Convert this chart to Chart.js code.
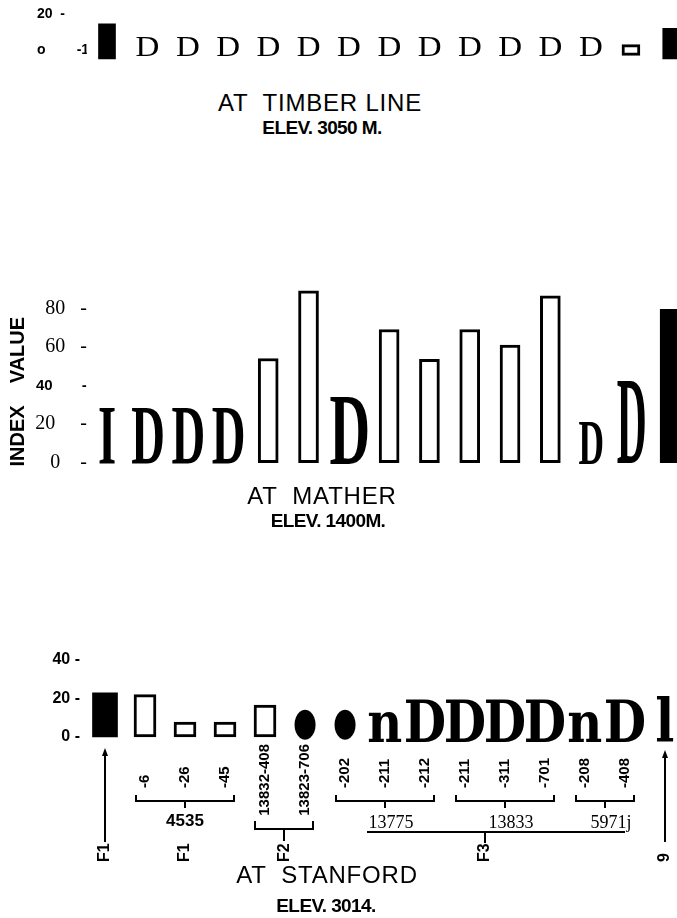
<!DOCTYPE html>
<html>
<head>
<meta charset="utf-8">
<script src="https://cdn.jsdelivr.net/npm/chart.js@4.4.1/dist/chart.umd.min.js"></script>
<style>
body { margin: 0; background: #fff; }
#page { position: relative; width: 677px; height: 918px; overflow: hidden; background: #fff; }
canvas { position: absolute; left: 0; }
.cap { position: absolute; width: 400px; text-align: center; color: #000; white-space: pre; font-family: "Liberation Sans", Arial, sans-serif; }
.big { font-size: 24px; line-height: 24px; letter-spacing: 0.8px; }
.elev { font-size: 19px; line-height: 19px; font-weight: bold; letter-spacing: -0.6px; }
</style>
</head>
<body>
<div id="page">
  <canvas id="timber" width="720" height="100" style="top:-20px;width:720px;height:100px"></canvas>
  <canvas id="mather" width="720" height="230" style="top:260px;width:720px;height:230px"></canvas>
  <canvas id="stanford" width="720" height="260" style="top:620px;width:720px;height:260px"></canvas>

  <div class="cap big" style="left:120px;top:91px">AT  TIMBER LINE</div>
  <div class="cap elev" style="left:122px;top:118px">ELEV. 3050 M.</div>
  <div class="cap big" style="left:122px;top:484px">AT  MATHER</div>
  <div class="cap elev" style="left:128px;top:511px">ELEV. 1400M.</div>
  <div class="cap big" style="left:127px;top:863px">AT  STANFORD</div>
  <div class="cap elev" style="left:126px;top:896px">ELEV. 3014.</div>
</div>
<script>
// slots along each panel (one per specimen)
const slots = ['1', '2', '3', '4', '5', '6', '7', '8', '9', '10', '11', '12', '13', '14', '15']

// AT TIMBER LINE
const timberSolid = [14.5, null, null, null, null, null, null, null, null, null, null, null, null, null, 12]
const timberOpen = [null, null, null, null, null, null, null, null, null, null, null, null, null, 3, null]
const timberGlyph = [null, 7.5, 7.5, 7.5, 7.5, 7.5, 7.5, 7.5, 7.5, 7.5, 7.5, 7.5, 7.5, null, null]
const timberGlyphText = ['', 'D', 'D', 'D', 'D', 'D', 'D', 'D', 'D', 'D', 'D', 'D', 'D', '', '']
const timberTicks = [0, 20]
const timberTickText = ['o        -1', '20  -']

// AT MATHER
const matherOpen = [null, null, null, null, 54, 89, null, 69, 53.5, 69, 61, 86.5, null, null, null]
const matherSolid = [null, null, null, null, null, null, null, null, null, null, null, null, null, null, 79.5]
const matherGlyph = [28, 28, 28, 28, null, null, 34, null, null, null, null, null, 21, null, null]
const matherGlyphText = ['I', 'D', 'D', 'D', '', '', 'D', '', '', '', '', '', 'D', '', '']
const matherTallGlyph = [null, null, null, null, null, null, null, null, null, null, null, null, null, 42, null]
const matherTallGlyphText = ['', '', '', '', '', '', '', '', '', '', '', '', '', 'D', '']
const matherTicks = [0, 20, 40, 60, 80]
const matherTickText = ['0    -', '20     -', '40       -', '60   -', '80   -']

// AT STANFORD
const stanfordLabels = ['', '-6', '-26', '-45', '13832-408', '13823-706', '-202', '-211', '-212', '-211', '-311', '-701', '-208', '-408', '']
const stanfordSolid = [23, null, null, null, null, null, null, null, null, null, null, null, null, null, null]
const stanfordOpen = [null, 22, 7.8, 7.8, 16.6, null, null, null, null, null, null, null, null, null, null]
const stanfordDots = [null, null, null, null, null, 14.5, 14.5, null, null, null, null, null, null, null, null]
const stanfordDotText = ['', '', '', '', '', '●', '●', '', '', '', '', '', '', '', '']
const stanfordGlyph = [null, null, null, null, null, null, null, 13, 19.2, 19.2, 19.2, 19.2, 13, 19.2, 20.8]
const stanfordGlyphText = ['', '', '', '', '', '', '', 'n', 'D', 'D', 'D', 'D', 'n', 'D', 'l']
const stanfordTicks = [0, 20, 40]
const stanfordTickText = ['0 -', '20 -', '40 -']
const stanfordGroupNames = ['4535', '13775', '13833', '5971j']
const stanfordGroupFirst = [1, 6, 9, 12]
const stanfordGroupLast = [3, 8, 11, 13]

const STANFORD_TOP = 620

function solidBars(data, base, thickness) {
    return { data: data, base: base, barThickness: thickness, backgroundColor: '#000', borderWidth: 0 }
}

function openBars(data, base, thickness) {
    return {
        data: data, base: base, barThickness: thickness,
        backgroundColor: '#fff', borderColor: '#000', borderWidth: 3, borderSkipped: false
    }
}

// bars that are printed as letters: the glyph ink fills the bar height
function glyphBars(data, text, base, font, stretch) {
    return {
        data: data, base: base, barThickness: 20,
        backgroundColor: 'rgba(0,0,0,0)', borderWidth: 0,
        glyphs: text, glyphFont: font, glyphStretch: stretch
    }
}

const glyphPlugin = {
    id: 'glyphs',
    afterDatasetsDraw(chart) {
        const ctx = chart.ctx
        chart.data.datasets.forEach((ds, i) => {
            if (!ds.glyphs) return
            const meta = chart.getDatasetMeta(i)
            meta.data.forEach((bar, j) => {
                const g = ds.glyphs[j]
                if (!g || ds.data[j] == null) return
                const p = bar.getProps(['x', 'y', 'base'], true)
                const h = p.base - p.y
                ctx.save()
                ctx.font = ds.glyphFont
                ctx.textAlign = 'left'
                ctx.textBaseline = 'alphabetic'
                const m = ctx.measureText(g)
                const inkW = m.actualBoundingBoxLeft + m.actualBoundingBoxRight
                const inkH = m.actualBoundingBoxAscent + m.actualBoundingBoxDescent
                const sy = h / inkH
                const sx = sy * ds.glyphStretch
                ctx.translate(p.x - inkW * sx / 2, p.y)
                ctx.scale(sx, sy)
                ctx.fillStyle = '#000'
                ctx.fillText(g, m.actualBoundingBoxLeft, m.actualBoundingBoxAscent)
                ctx.restore()
            })
        })
    }
}

function bracket(ctx, x1, x2, y, up, drop) {
    ctx.beginPath()
    ctx.moveTo(x1, y - up)
    ctx.lineTo(x1, y)
    ctx.lineTo(x2, y)
    ctx.lineTo(x2, y - up)
    ctx.moveTo((x1 + x2) / 2, y)
    ctx.lineTo((x1 + x2) / 2, y + drop)
    ctx.stroke()
}

function upArrow(ctx, x, y1, y2) {
    ctx.beginPath()
    ctx.moveTo(x, y1 + 4)
    ctx.lineTo(x, y2)
    ctx.stroke()
    ctx.beginPath()
    ctx.moveTo(x, y1)
    ctx.lineTo(x - 3, y1 + 8)
    ctx.lineTo(x + 3, y1 + 8)
    ctx.closePath()
    ctx.fill()
}

function upText(ctx, text, x, y) {
    ctx.save()
    ctx.translate(x, y)
    ctx.rotate(-Math.PI / 2)
    ctx.textAlign = 'left'
    ctx.textBaseline = 'middle'
    ctx.fillText(text, 0, 0)
    ctx.restore()
}

const stanfordNotes = {
    id: 'stanfordNotes',
    afterDraw(chart) {
        const ctx = chart.ctx
        const xs = chart.scales.x
        const px = i => xs.getPixelForValue(i)
        ctx.save()
        ctx.translate(0, -STANFORD_TOP)
        ctx.fillStyle = '#000'
        ctx.strokeStyle = '#000'
        ctx.lineWidth = 2

        // specimen numbers, reading upwards
        ctx.font = 'bold 15px "Liberation Sans", sans-serif'
        stanfordLabels.forEach((t, i) => {
            if (!t) return
            const w = ctx.measureText(t).width
            upText(ctx, t, px(i), Math.max(788, 744 + w))
        })

        // groups of specimens
        stanfordGroupNames.forEach((name, g) => {
            const x1 = px(stanfordGroupFirst[g]) - 9
            const x2 = px(stanfordGroupLast[g]) + 9
            bracket(ctx, x1, x2, 801, 6, 7)
            ctx.textAlign = 'center'
            ctx.textBaseline = 'middle'
            if (g == 0) {
                ctx.font = 'bold 17px "Liberation Sans", sans-serif'
                ctx.fillText(name, (x1 + x2) / 2, 821)
            } else {
                ctx.font = '18px "Liberation Serif", serif'
                ctx.fillText(name, (x1 + x2) / 2 + 6, 823)
            }
        })
        bracket(ctx, px(4) - 10, px(5) + 8, 829, 8, 12)
        ctx.beginPath()
        ctx.moveTo(px(6) + 22, 832)
        ctx.lineTo(px(13), 832)
        ctx.moveTo((px(6) + px(13)) / 2, 832)
        ctx.lineTo((px(6) + px(13)) / 2, 843)
        ctx.stroke()

        upArrow(ctx, px(0), 748, 842)
        upArrow(ctx, px(14), 750, 842)

        ctx.font = 'bold 16px "Liberation Sans", sans-serif'
        upText(ctx, 'F1', px(0), 862)
        upText(ctx, 'F1', px(2), 862)
        upText(ctx, 'F2', (px(4) + px(5)) / 2, 862)
        upText(ctx, 'F3', (px(6) + px(13)) / 2, 862)
        upText(ctx, '9', px(14), 862)
        ctx.restore()
    }
}

function tickLabel(ticks, text) {
    return v => {
        const k = ticks.indexOf(v)
        return k < 0 ? '' : text[k]
    }
}

function panel(id, datasets, y, opts) {
    return new Chart(document.getElementById(id), {
        type: 'bar',
        data: { labels: slots, datasets: datasets },
        options: {
            responsive: false,
            animation: false,
            events: [],
            layout: { padding: opts.padding },
            datasets: { bar: { grouped: false } },
            plugins: { legend: { display: false }, tooltip: { enabled: false }, title: { display: false } },
            scales: {
                x: { type: 'category', offset: true, display: false },
                y: Object.assign({
                    afterFit: scale => { scale.width = opts.axisWidth },
                    grid: { display: false, drawTicks: false },
                    border: { display: false }
                }, y)
            }
        },
        plugins: opts.plugins || [glyphPlugin]
    })
}

// AT TIMBER LINE
panel('timber', [
    solidBars(timberSolid, -5, 17),
    openBars(timberOpen, -3, 18),
    glyphBars(timberGlyph, timberGlyphText, -3.5, '100px "Liberation Serif", serif', 1.1)
], {
    min: -6, max: 22,
    ticks: {
        stepSize: 20, includeBounds: false, crossAlign: 'far', padding: 0,
        color: '#000', font: { family: '"Liberation Sans", sans-serif', weight: 'bold', size: 14 },
        callback: tickLabel(timberTicks, timberTickText)
    }
}, { padding: { left: 37, right: 28.6, top: 30.4, bottom: 19.2 }, axisWidth: 49.85 })

// AT MATHER
panel('mather', [
    openBars(matherOpen, 0, 20),
    solidBars(matherSolid, 0, 22),
    glyphBars(matherGlyph, matherGlyphText, -1, 'bold 100px "Liberation Serif", serif', 0.55),
    glyphBars(matherTallGlyph, matherTallGlyphText, -1, 'bold 100px "Liberation Serif", serif', 0.33)
], {
    min: -2, max: 92,
    title: {
        display: true, text: 'INDEX    VALUE', color: '#000', padding: 0, align: 'start',
        font: { family: '"Liberation Sans", sans-serif', weight: 'bold', size: 20 }
    },
    ticks: {
        stepSize: 20, includeBounds: false, padding: 0, color: '#000',
        font: c => (c.tick && c.tick.value === 40)
            ? { family: '"Liberation Sans", sans-serif', weight: 'bold', size: 15 }
            : { family: '"Liberation Serif", serif', size: 20 },
        callback: tickLabel(matherTicks, matherTickText)
    }
}, { padding: { left: 6, right: 28.6, top: 25.14, bottom: 23.44 }, axisWidth: 80.85 })

// AT STANFORD
panel('stanford', [
    solidBars(stanfordSolid, 0, 25),
    openBars(stanfordOpen, 0, 22),
    glyphBars(stanfordDots, stanfordDotText, -1.5, '100px "DejaVu Sans", sans-serif', 0.7),
    glyphBars(stanfordGlyph, stanfordGlyphText, -2.6, 'bold 100px "DejaVu Serif", serif', 0.85)
], {
    min: -3, max: 45,
    ticks: {
        stepSize: 20, includeBounds: false, padding: 5, color: '#000',
        font: { family: '"Liberation Sans", sans-serif', weight: 'bold', size: 16 },
        callback: tickLabel(stanfordTicks, stanfordTickText)
    }
}, { padding: { left: 0, right: 35, top: 30.4, bottom: 137.2 }, axisWidth: 85, plugins: [glyphPlugin, stanfordNotes] })
</script>
</body>
</html>
